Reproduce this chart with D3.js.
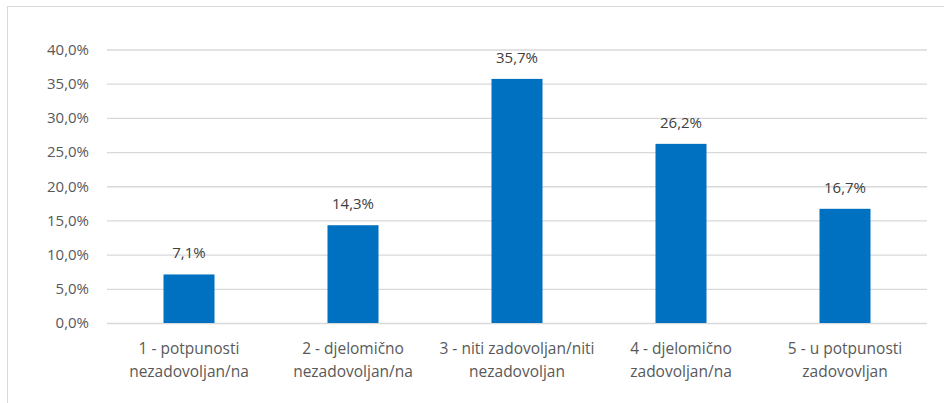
<!DOCTYPE html>
<html><head><meta charset="utf-8">
<script src="https://cdn.jsdelivr.net/npm/d3@7"></script>
<style>body{margin:0;background:#fff;}svg{display:block;}svg text{font-family:"Open Sans",sans-serif;}</style>
</head><body>
<script>
const categories = [
  ["1 - potpunosti", "nezadovoljan/na"],
  ["2 - djelomično", "nezadovoljan/na"],
  ["3 - niti zadovoljan/niti", "nezadovoljan"],
  ["4 - djelomično", "zadovoljan/na"],
  ["5 - u potpunosti", "zadovovljan"]
];
const values = [7.1, 14.3, 35.7, 26.2, 16.7];
const yTicks = [0, 5, 10, 15, 20, 25, 30, 35, 40];

const W = 944, H = 403;
const m = {left: 107, right: 17, top: 49.5, bottom: 80};
const svg = d3.select("body").append("svg").attr("width", W).attr("height", H);

svg.append("rect").attr("x", 7.5).attr("y", 6.5).attr("width", 1000).attr("height", 1000)
  .attr("fill", "none").attr("stroke", "#d9d9d9").attr("stroke-width", 1);

const fmt = v => d3.format(".1f")(v).replace(".", ",") + "%";
const x = d3.scaleBand().domain(d3.range(categories.length)).range([m.left, W - m.right])
  .paddingInner(0.689).paddingOuter(0.3445);
const y = d3.scaleLinear().domain([0, 40]).range([H - m.bottom, m.top]);

const yAxis = svg.append("g").attr("transform", `translate(${m.left},0)`)
  .call(d3.axisLeft(y).tickValues(yTicks).tickFormat(fmt).tickSize(-(W - m.left - m.right)).tickPadding(18));
yAxis.attr("font-family", null).attr("font-size", null);
yAxis.select(".domain").remove();
yAxis.selectAll(".tick line").attr("stroke", "#d9d9d9").attr("stroke-width", 1.3);
yAxis.selectAll(".tick text").attr("fill", "#595959").style("font-size", "15px");

svg.selectAll("rect.bar").data(values).join("rect").attr("class", "bar")
  .attr("x", (d, i) => x(i)).attr("width", x.bandwidth())
  .attr("y", d => y(d)).attr("height", d => y(0) - y(d))
  .attr("fill", "#0070c0");

svg.selectAll("text.lbl").data(values).join("text").attr("class", "lbl")
  .attr("x", (d, i) => x(i) + x.bandwidth() / 2).attr("y", d => y(d) - 16)
  .attr("text-anchor", "middle").attr("fill", "#404040").style("font-size", "15px")
  .text(fmt);

const xAxis = svg.append("g").attr("transform", `translate(0,${y(0)})`)
  .call(d3.axisBottom(x).tickSize(0).tickFormat(""));
xAxis.attr("font-family", null).attr("font-size", null);
xAxis.select(".domain").remove();
xAxis.selectAll(".tick").each(function(d) {
  const t = d3.select(this).append("text").attr("fill", "#595959").style("font-size", "15.5px")
    .attr("text-anchor", "middle");
  categories[d].forEach((line, k) => {
    t.append("tspan").attr("x", 0).attr("y", 31 + k * 23).text(line);
  });
});
</script>
</body></html>
